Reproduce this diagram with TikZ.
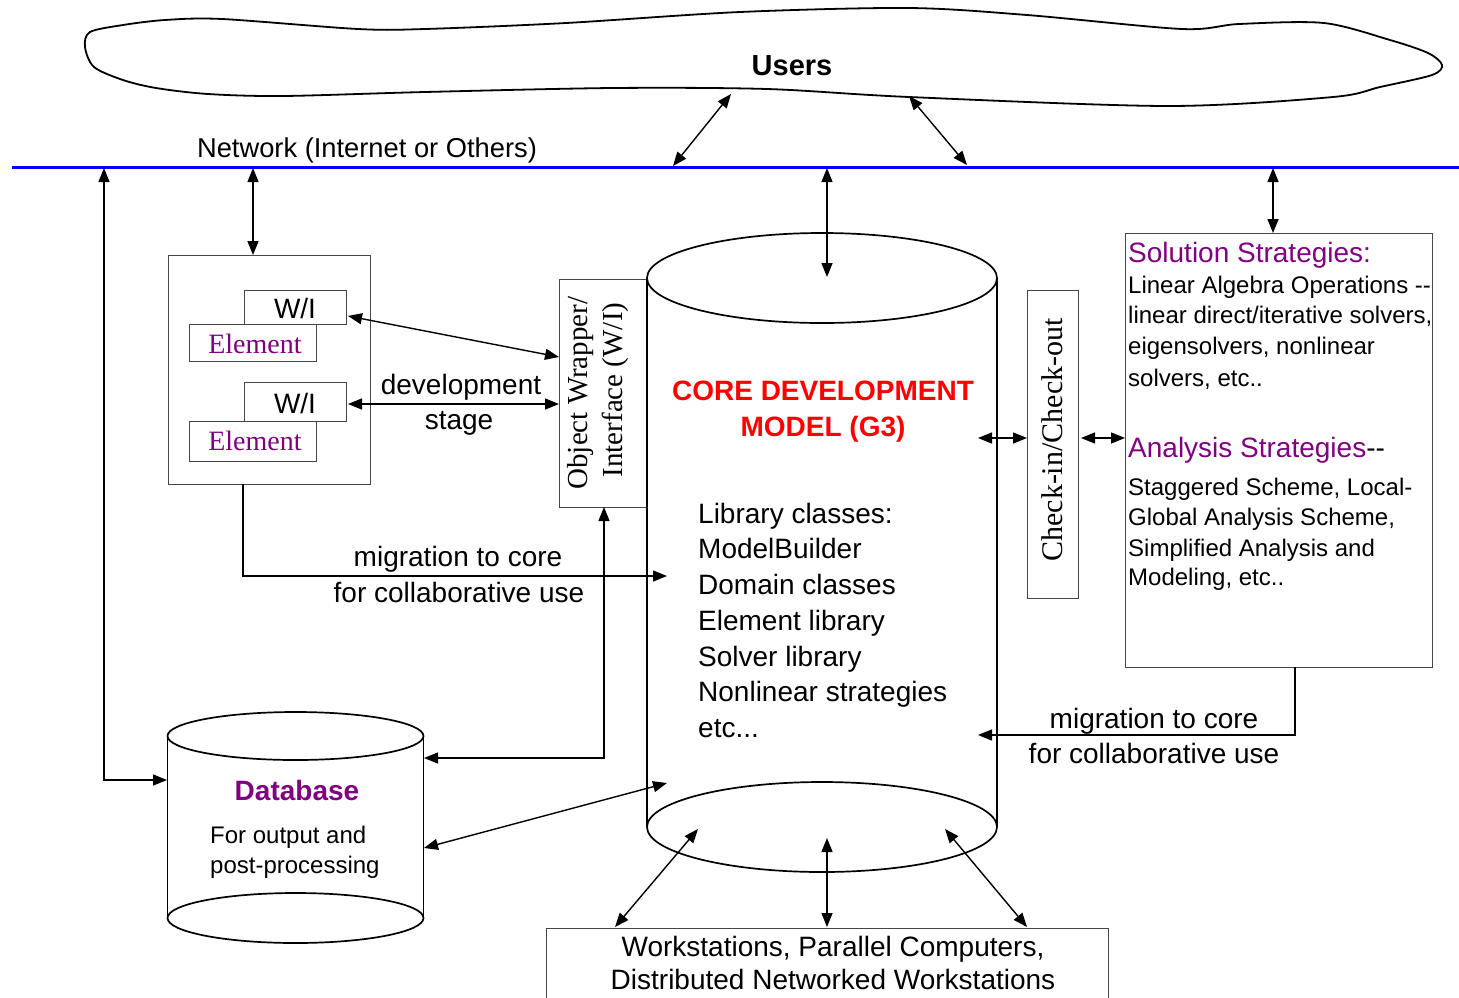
\documentclass[tikz,border=0pt]{standalone}
\usepackage{fontspec}
\setmainfont{Liberation Serif}
\setsansfont{Liberation Sans}
\usetikzlibrary{arrows.meta}
\definecolor{plum}{RGB}{128,0,128}
\definecolor{netblue}{RGB}{0,0,255}
\definecolor{edge}{RGB}{70,70,70}
\definecolor{corered}{RGB}{255,0,0}
\newcommand\fsz[2]{\fontsize{#1}{#2}\selectfont}

\tikzset{
  >={Triangle[length=14pt,width=11pt]},
  duplex/.style={line width=1.4pt,<->},
  simplex/.style={line width=1.4pt,->},
  frame/.style={draw=edge,line width=1.1pt,fill=white,inner sep=0pt,anchor=north west},
  cyl/.style={line width=1.7pt},
  sans/.style={font=\sffamily\fsz{28}{34},inner sep=0pt},
  sansbold/.style={font=\sffamily\bfseries\fsz{28}{34},inner sep=0pt},
  sanssm/.style={font=\sffamily\fsz{24}{30},inner sep=0pt},
  serif/.style={font=\rmfamily\fsz{28}{34},inner sep=0pt},
}

\begin{document}
\begin{tikzpicture}[x=1pt,y=-1pt]
\useasboundingbox (0,0) rectangle (1459,997);
\clip (0,0) rectangle (1459,997);
\fill[white] (0,0) rectangle (1459,997);

% ---------- users cloud ----------
\draw[line width=1.8pt] plot[smooth cycle, tension=0.5] coordinates {
  (85,47) (90,32) (123,25) (165,20) (222,19) (358,29) (425,29) (566,23)
  (740,12) (909,8) (1027,15) (1182,29) (1239,24) (1324,23) (1390,40)
  (1428,53) (1442,65) (1432,75) (1380,87) (1333,97) (1168,106) (909,97)
  (767,89) (613,88) (425,92) (283,96) (208,94) (156,88) (123,80) (94,67)};
\node[sansbold, font=\sffamily\bfseries\fsz{29}{34}, anchor=base] (users) at (792,75) {Users};

% ---------- network bus ----------
\coordinate (busL) at (12,167);
\coordinate (busR) at (1459,167);
\draw[netblue, line width=3pt] (busL) -- (busR);
\node[sans, font=\sffamily\fsz{27.3}{34}, anchor=base] (netlabel) at (367,157) {Network (Internet or Others)};

% ---------- element group ----------
\node[frame, minimum width=202pt, minimum height=229pt] (group) at (168,255) {};
\node[frame, minimum width=102pt, minimum height=34pt] (wiA) at (244,290) {};
\node[frame, minimum width=127pt, minimum height=37pt] (elA) at (189,324) {};
\node[frame, minimum width=102pt, minimum height=39pt] (wiB) at (244,382) {};
\node[frame, minimum width=127pt, minimum height=40pt] (elB) at (189,421) {};
\node[sans, anchor=base] (wiAtxt) at (295,318) {W/I};
\node[sans, anchor=base] (wiBtxt) at (295,413) {W/I};
\node[serif, text=plum, anchor=base] (elAtxt) at (255,353) {Element};
\node[serif, text=plum, anchor=base] (elBtxt) at (255,450) {Element};

\node[sans, anchor=base] (devA) at (461,394) {development};
\node[sans, anchor=base] (devB) at (459,429) {stage};

% ---------- object wrapper ----------
\node[frame, minimum width=88pt, minimum height=228pt] (ow) at (559,279) {};
\node[serif, font=\rmfamily\fsz{29}{34}, rotate=90, anchor=base] (owA) at (587,393) {Object Wrapper/};
\node[serif, font=\rmfamily\fsz{29}{34}, rotate=90, anchor=base] (owB) at (622,390) {Interface (W/I)};

% ---------- core cylinder ----------
\coordinate (coreTop) at (822,278);
\coordinate (coreBot) at (822,827);
\draw[cyl] (647,278) -- (647,827);
\draw[cyl] (997,278) -- (997,827);
\draw[cyl, fill=white] (coreTop) ellipse [x radius=175pt, y radius=45pt];
\draw[cyl, fill=white] (coreBot) ellipse [x radius=175pt, y radius=45pt];
\node[sansbold, text=corered, anchor=base] (coreA) at (823,400) {CORE DEVELOPMENT};
\node[sansbold, text=corered, anchor=base] (coreB) at (823,436) {MODEL (G3)};
\node[sans, anchor=base west] (lib1) at (698,523) {Library classes:};
\node[sans, anchor=base west] (lib2) at (698,558) {ModelBuilder};
\node[sans, anchor=base west] (lib3) at (698,594) {Domain classes};
\node[sans, anchor=base west] (lib4) at (698,630) {Element library};
\node[sans, anchor=base west] (lib5) at (698,666) {Solver library};
\node[sans, anchor=base west] (lib6) at (698,701) {Nonlinear strategies};
\node[sans, anchor=base west] (lib7) at (698,737) {etc...};

% ---------- check-in / check-out ----------
\node[frame, minimum width=51pt, minimum height=308pt] (check) at (1027,290) {};
\node[serif, font=\rmfamily\fsz{30}{34}, rotate=90, anchor=base] (checktxt) at (1062,440) {Check-in/Check-out};

% ---------- strategies ----------
\node[frame, minimum width=307pt, minimum height=434pt] (strat) at (1125,233) {};
\node[sans, text=plum, anchor=base west] (solA) at (1128,262) {Solution Strategies:};
\node[sanssm, anchor=base west] (solB) at (1128,293) {Linear Algebra Operations -{}-};
\node[sanssm, anchor=base west] (solC) at (1128,323) {linear direct/iterative solvers,};
\node[sanssm, anchor=base west] (solD) at (1128,354) {eigensolvers, nonlinear};
\node[sanssm, anchor=base west] (solE) at (1128,386) {solvers, etc..};
\node[sans, anchor=base west] (anaA) at (1128,457) {\textcolor{plum}{Analysis Strategies}-{}-};
\node[sanssm, anchor=base west] (anaB) at (1128,495) {Staggered Scheme, Local-};
\node[sanssm, anchor=base west] (anaC) at (1128,525) {Global Analysis Scheme,};
\node[sanssm, anchor=base west] (anaD) at (1128,556) {Simplified Analysis and};
\node[sanssm, anchor=base west] (anaE) at (1128,585) {Modeling, etc..};

% ---------- database cylinder ----------
\coordinate (dbTop) at (295.5,736);
\coordinate (dbBot) at (295.5,918);
\draw[cyl] (167.5,736) -- (167.5,918);
\draw[cyl] (423.5,736) -- (423.5,918);
\draw[cyl, fill=white] (dbTop) ellipse [x radius=128pt, y radius=24pt];
\draw[cyl, fill=white] (dbBot) ellipse [x radius=128pt, y radius=25pt];
\node[sansbold, text=plum, anchor=base] (dbA) at (297,800) {Database};
\node[sanssm, anchor=base west] (dbB) at (210,843) {For output and};
\node[sanssm, anchor=base west] (dbC) at (210,873) {post-processing};

% ---------- workstations ----------
\node[frame, minimum width=562pt, minimum height=100pt] (ws) at (546,928) {};
\node[sans, anchor=base] (wsA) at (833,956) {Workstations, Parallel Computers,};
\node[sans, anchor=base] (wsB) at (833,989) {Distributed Networked Workstations};

% ---------- migration labels ----------
\node[sans, anchor=base] (migLA) at (458,566) {migration to core};
\node[sans, anchor=base] (migLB) at (459,602) {for collaborative use};
\node[sans, anchor=base] (migRA) at (1154,728) {migration to core};
\node[sans, anchor=base] (migRB) at (1154,763) {for collaborative use};

% ---------- connector end points ----------
\coordinate (cloudA) at (731,94);
\coordinate (cloudB) at (909,96);
\coordinate (busA) at (673,166);
\coordinate (busB) at (967,165);
\coordinate (busDb) at (104,168);
\coordinate (busGroup) at (253,168);
\coordinate (busCore) at (827,168);
\coordinate (busStrat) at (1273,168);
\coordinate (coreIn) at (827,277);
\coordinate (wiAout) at (348,316);
\coordinate (wiBout) at (348,404);
\coordinate (owInA) at (559,357);
\coordinate (owInB) at (559,404);
\coordinate (groupOut) at (243,484);
\coordinate (owOut) at (604,507);
\coordinate (stratOut) at (1295,667);
\coordinate (dbLeft) at (167,780);
\coordinate (dbRightA) at (424,758);
\coordinate (dbRightB) at (424,848);
\coordinate (coreLeftA) at (667,576);
\coordinate (coreLeftB) at (667,783);
\coordinate (coreRightA) at (978,438);
\coordinate (coreRightB) at (978,735);
\coordinate (checkL) at (1027,438);
\coordinate (checkR) at (1081,438);
\coordinate (stratL) at (1125,438);
\coordinate (coreFootA) at (698,829);
\coordinate (coreFootB) at (827,838);
\coordinate (coreFootC) at (945,829);
\coordinate (wsTopA) at (615,927);
\coordinate (wsTopB) at (827,927);
\coordinate (wsTopC) at (1027,927);

% ---------- connectors ----------
\draw[duplex] (cloudA) -- (busA);
\draw[duplex] (cloudB) -- (busB);
\draw[duplex] (busDb) |- (dbLeft);
\draw[duplex] (busGroup) -- (group.north -| busGroup);
\draw[duplex] (busCore) -- (coreIn);
\draw[duplex] (busStrat) -- (strat.north -| busStrat);
\draw[duplex] (wiAout) -- (owInA);
\draw[duplex] (wiBout) -- (owInB);
\draw[simplex] (groupOut) |- (coreLeftA);
\draw[duplex] (owOut) |- (dbRightA);
\draw[duplex] (dbRightB) -- (coreLeftB);
\draw[duplex] (coreRightA) -- (checkL);
\draw[duplex] (checkR) -- (stratL);
\draw[simplex] (stratOut) |- (coreRightB);
\draw[duplex] (wsTopA) -- (coreFootA);
\draw[duplex] (wsTopB) -- (coreFootB);
\draw[duplex] (wsTopC) -- (coreFootC);
\end{tikzpicture}
\end{document}
